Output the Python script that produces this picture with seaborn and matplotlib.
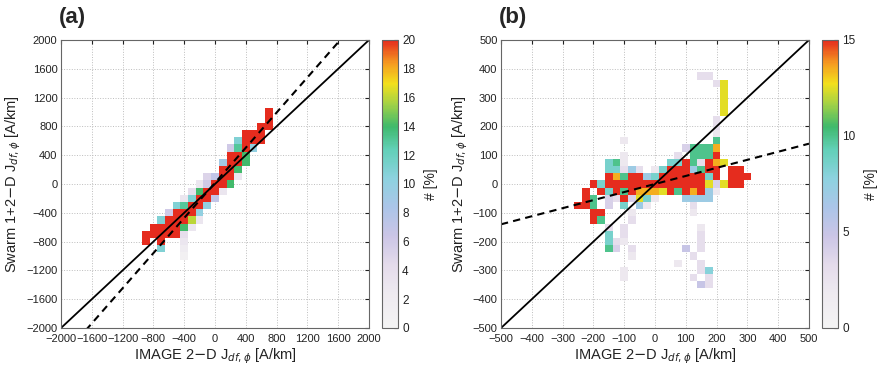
import matplotlib
matplotlib.use('Agg')
import matplotlib.pyplot as plt
import numpy as np
import seaborn as sns
from matplotlib.colors import LinearSegmentedColormap

sns.set_style('white')
plt.rcParams['font.family'] = ['Liberation Sans', 'DejaVu Sans']

# ---- panel (a): 2-D histogram cells, bin centres every 100 A/km ----
a_x = [700,
       700,
       600, 700,
       400, 500, 600,
       300, 400, 500, 600,
       200, 300, 400, 500,
       200, 300, 400,
       100, 200, 300, 400,
       100, 200, 300,
       -100, 0, 100, 200, 300,
       -200, -100, 0, 100, 200,
       -300, -200, -100, 0, 100,
       -400, -300, -200, -100, 0,
       -500, -400, -300, -200, -100,
       -600, -500, -400, -300, -200,
       -700, -600, -500, -400, -300, -200,
       -800, -700, -600, -500, -400, -300,
       -900, -800, -700, -600, -500, -400,
       -900, -700, -400,
       -700, -400,
       -400]
a_y = ([1000] + [900] + [800] * 2 + [700] * 3 + [600] * 4 + [500] * 4 + [400] * 3
       + [300] * 4 + [200] * 3 + [100] * 5 + [0] * 5 + [-100] * 5 + [-200] * 5
       + [-300] * 5 + [-400] * 5 + [-500] * 6 + [-600] * 6 + [-700] * 6
       + [-800] * 3 + [-900] * 2 + [-1000])
a_pct = [20,
         20,
         20, 20,
         20, 20, 20,
         11, 20, 20, 20,
         6, 13, 20, 10,
         20, 20, 14,
         9, 20, 20, 14,
         20, 20, 14,
         5, 7, 20, 20, 3,
         3, 6, 20, 20, 14,
         4, 14, 20, 20, 3,
         3, 11, 20, 20, 7,
         11, 13, 20, 20, 10,
         6, 20, 20, 20, 10,
         11, 20, 20, 20, 16, 3,
         20, 20, 20, 20, 14, 3,
         20, 20, 20, 20, 20, 4,
         20, 20, 3,
         11, 2,
         1]

# ---- panel (b): bin centres every 25 A/km ----
b_x = [150, 175,
       200, 225,
       225,
       225,
       225,
       225,
       200,
       200,
       200,
       -100, 200,
       100, 125, 150, 175, 200,
       -100, 75, 125, 150, 175, 200,
       -150, -125, -100, 50, 75, 100, 125, 150, 175, 200, 225,
       -150, -125, -100, -75, -50, 0, 25, 50, 75, 100, 125, 150, 175, 200, 250, 275,
       -150, -125, -100, -75, -50, -25, 0, 25, 50, 75, 100, 125, 150, 175, 200, 250, 275, 300,
       -200, -175, -150, -125, -100, -75, -50, -25, 0, 25, 50, 75, 100, 125, 150, 175, 200, 225, 250, 275,
       -225, -175, -150, -125, -100, -75, -50, -25, 0, 25, 50, 75, 100, 125, 150, 175, 200,
       -225, -200, -150, -125, -100, -75, -50, -25, 0, 100, 125, 150, 175,
       -250, -225, -200, -150, -100, -50, -25, 125,
       -200, -175, -75, 125,
       -200, -175, -75,
       -150, -100, 150,
       -150, -100, 150,
       -150, -125, -100, 150,
       -150, -125, -75, 100, 150,
       -75, 125,
       75, 150,
       -100, 150, 175,
       -100, 125, 175,
       150, 175]
b_y = ([375] * 2 + [350] * 2 + [325] + [300] + [275] + [250] + [225] + [200] + [175]
       + [150] * 2 + [125] * 5 + [100] * 6 + [75] * 11 + [50] * 16 + [25] * 18
       + [0] * 20 + [-25] * 17 + [-50] * 13 + [-75] * 8 + [-100] * 4 + [-125] * 3
       + [-150] * 3 + [-175] * 3 + [-200] * 4 + [-225] * 5 + [-250] * 2 + [-275] * 2
       + [-300] * 3 + [-325] * 3 + [-350] * 2)
b_pct = [3, 3,
         3, 12.5,
         12.5,
         12.5,
         12.5,
         12.5,
         3,
         3,
         2,
         2, 10,
         4, 10, 10, 10, 13.5,
         2, 3, 10, 10, 10, 15,
         8.5, 10, 2, 8.5, 8.5, 15, 10, 3, 15, 13.5, 12.5,
         8.5, 8.5, 3, 7, 3, 2, 8.5, 15, 15, 15, 7, 10, 15, 15, 15, 15,
         15, 13.5, 10, 15, 15, 7, 8.5, 15, 15, 15, 15, 15, 15, 8.5, 15, 15, 15, 15,
         15, 8.5, 15, 15, 15, 15, 15, 15, 15, 15, 15, 15, 15, 15, 15, 12.5, 4, 12.5, 15, 15,
         15, 15, 8.5, 15, 10, 15, 13.5, 13.5, 13.5, 12.5, 15, 10, 15, 13.5, 15, 7, 2,
         15, 10, 4, 3, 15, 4, 12.5, 8.5, 2, 7, 7, 7, 7,
         15, 15, 10, 4, 8.5, 7, 2, 3,
         15, 15, 2, 2,
         15, 10, 3,
         3, 3, 2,
         8.5, 3, 3,
         8.5, 3, 2, 3,
         10, 4, 3, 5, 3,
         2, 3,
         2, 3,
         2, 3, 8,
         2, 3, 3,
         5, 3]

# fitted (dashed) lines: slope, intercept
a_fit = (1.22, 16)
b_fit = (0.28, 0)

pct_cmap = LinearSegmentedColormap.from_list('pct', [
    (0.00, '#f4f4f4'), (0.12, '#eeeaf0'), (0.22, '#e4dbeb'), (0.32, '#cbc5e6'),
    (0.42, '#abc5e8'), (0.52, '#8dd2df'), (0.62, '#62d0b8'), (0.70, '#3fb96c'),
    (0.78, '#a5d245'), (0.85, '#f3e01c'), (0.92, '#f59c20'), (1.00, '#e52c1e')])

fig = plt.figure(figsize=(8.81, 3.72), dpi=100)


def panel(left, cleft, x, y, pct, width, lim, vmax, step, cticks, fit, tag):
    ax = fig.add_axes([left / 881, 44 / 372, 308 / 881, 288 / 372])
    cax = fig.add_axes([cleft / 881, 44 / 372, 16 / 881, 288 / 372])
    sns.histplot(x=x, y=y, weights=pct, binwidth=width,
                 binrange=(-lim - width / 2, lim + width / 2),
                 cmap=pct_cmap, vmin=0, vmax=vmax, cbar=True, cbar_ax=cax,
                 cbar_kws={'ticks': cticks}, ax=ax)
    line = np.array([-lim, lim])
    ax.plot(line, line, color='black', lw=1.3)
    ax.plot(line, fit[0] * line + fit[1], color='black', lw=1.5, ls=(0, (3.5, 2.5)))
    ax.set_xlim(-lim, lim)
    ax.set_ylim(-lim, lim)
    ticks = np.arange(-lim, lim + 1, step)
    ax.set_xticks(ticks)
    ax.set_yticks(ticks)
    ax.set_axisbelow(True)
    ax.grid(True, ls=':', color='#bdbdbd', lw=0.7)
    ax.tick_params(direction='in', length=3, labelsize=8, colors='#222222',
                   top=True, right=True, pad=2.5)
    ax.tick_params(axis='x', pad=4)
    for s in ax.spines.values():
        s.set_color('#666666')
        s.set_linewidth(0.8)
    ax.set_xlabel(r'IMAGE 2$-$D J$_{df,\phi}$ [A/km]', fontsize=10.5, color='#222222', labelpad=2)
    ax.set_ylabel(r'Swarm 1+2$-$D J$_{df,\phi}$ [A/km]', fontsize=10.5, color='#222222', labelpad=2)
    cax.tick_params(direction='in', length=3, labelsize=8.5, colors='#222222', pad=3)
    for s in cax.spines.values():
        s.set_color('#666666')
        s.set_linewidth(0.8)
    cax.set_ylabel('# [%]', fontsize=10, color='#222222', labelpad=6)
    fig.text(left / 881 - 0.002, 1 - 17 / 372, tag, fontsize=16, fontweight='bold', va='center')
    return ax


panel(61, 382, a_x, a_y, a_pct, 100, 2000, 20, 400, list(range(0, 21, 2)), a_fit, '(a)')
panel(501, 822, b_x, b_y, b_pct, 25, 500, 15, 100, [0, 5, 10, 15], b_fit, '(b)')

fig.savefig('out.png', dpi=100)
